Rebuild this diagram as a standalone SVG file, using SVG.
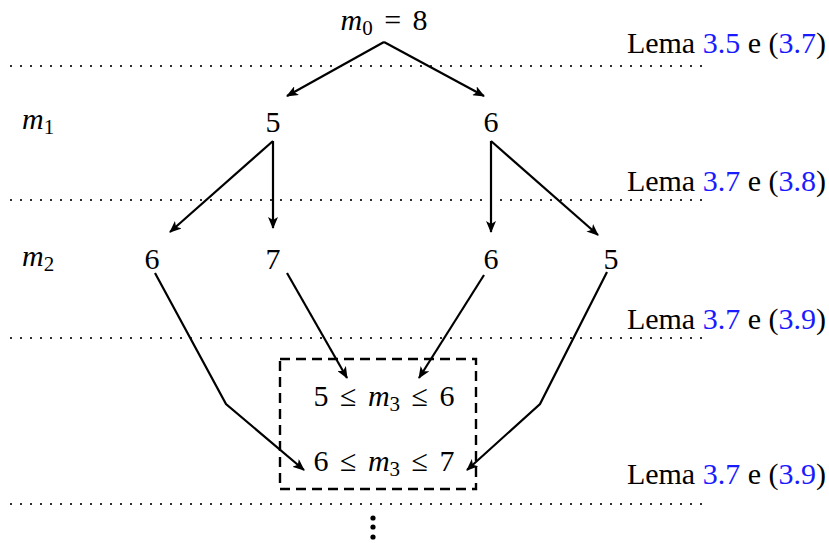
<svg xmlns="http://www.w3.org/2000/svg" width="829" height="543" viewBox="0 0 829 543">
<style>
text{font-size:30px;fill:#000}
.c{text-anchor:middle}
.r{text-anchor:end}
.i{font-style:italic}
.s{font-size:21px}
.b{fill:#1a1aff}
.w{word-spacing:4px}
.dot{stroke:#000;stroke-width:2.2;stroke-linecap:round;stroke-dasharray:0 10;fill:none}
.e{stroke:#000;stroke-width:2.2;fill:none;marker-end:url(#ah)}
</style>
<defs>
<marker id="ah" viewBox="0 0 12 10" refX="11" refY="5" markerWidth="12" markerHeight="10" markerUnits="userSpaceOnUse" orient="auto">
<path d="M0,0 L12,5 L0,10 L3,5 Z" fill="#000"/>
</marker>
</defs>
<g id="guides">
<line class="dot" x1="11" y1="66" x2="703" y2="66"/>
<line class="dot" x1="11" y1="200" x2="703" y2="200"/>
<line class="dot" x1="11" y1="338" x2="703" y2="338"/>
<line class="dot" x1="11" y1="504" x2="703" y2="504"/>
</g>
<g id="lemmas">
<text class="r" x="826" y="53" style="font-family:'Liberation Serif',serif">Lema <tspan class="b">3.5</tspan> e (<tspan class="b">3.7</tspan>)</text>
<text class="r" x="826" y="191" style="font-family:'Liberation Serif',serif">Lema <tspan class="b">3.7</tspan> e (<tspan class="b">3.8</tspan>)</text>
<text class="r" x="826" y="329" style="font-family:'Liberation Serif',serif">Lema <tspan class="b">3.7</tspan> e (<tspan class="b">3.9</tspan>)</text>
<text class="r" x="826" y="484" style="font-family:'Liberation Serif',serif">Lema <tspan class="b">3.7</tspan> e (<tspan class="b">3.9</tspan>)</text>
</g>
<g id="rowlabels">
<text x="22" y="129" style="font-family:'Liberation Serif',serif"><tspan class="i">m</tspan><tspan class="s" dy="5">1</tspan></text>
<text x="22" y="266" style="font-family:'Liberation Serif',serif"><tspan class="i">m</tspan><tspan class="s" dy="5">2</tspan></text>
</g>
<g id="m0"><text class="c w" x="384" y="30" style="font-family:'Liberation Serif',serif"><tspan class="i">m</tspan><tspan class="s" dy="5">0</tspan><tspan dy="-5"> = 8</tspan></text></g>
<g id="n1a"><text class="c" x="273" y="132" style="font-family:'Liberation Serif',serif">5</text></g>
<g id="n1b"><text class="c" x="491" y="132" style="font-family:'Liberation Serif',serif">6</text></g>
<g id="n2a"><text class="c" x="152" y="269" style="font-family:'Liberation Serif',serif">6</text></g>
<g id="n2b"><text class="c" x="273" y="269" style="font-family:'Liberation Serif',serif">7</text></g>
<g id="n2c"><text class="c" x="491" y="269" style="font-family:'Liberation Serif',serif">6</text></g>
<g id="n2d"><text class="c" x="611" y="269" style="font-family:'Liberation Serif',serif">5</text></g>
<g id="box">
<rect x="280" y="359" width="196" height="130" fill="none" stroke="#000" stroke-width="2.4" stroke-dasharray="10 6"/>
<text class="c w" x="384" y="406" style="font-family:'Liberation Serif',serif">5 ≤ <tspan class="i">m</tspan><tspan class="s" dy="5">3</tspan><tspan dy="-5"> ≤ 6</tspan></text>
<text class="c w" x="384" y="471" style="font-family:'Liberation Serif',serif">6 ≤ <tspan class="i">m</tspan><tspan class="s" dy="5">3</tspan><tspan dy="-5"> ≤ 7</tspan></text>
</g>
<g id="connectors">
<line class="e" x1="384" y1="42" x2="287" y2="96"/>
<line class="e" x1="384" y1="42" x2="484" y2="96"/>
<line class="e" x1="273" y1="141" x2="170" y2="232"/>
<line class="e" x1="273" y1="141" x2="273" y2="228"/>
<line class="e" x1="491" y1="141" x2="491" y2="232"/>
<line class="e" x1="491" y1="141" x2="598" y2="235"/>
<path class="e" d="M155,273 L226,404 L304,470"/>
<line class="e" x1="287" y1="273" x2="347" y2="378"/>
<line class="e" x1="484" y1="275" x2="419" y2="378"/>
<path class="e" d="M607,272 L540,404 L467,470"/>
</g>
<g id="vdots">
<circle cx="373" cy="518" r="2.6"/>
<circle cx="373" cy="527" r="2.6"/>
<circle cx="373" cy="537" r="2.6"/>
</g>
</svg>
